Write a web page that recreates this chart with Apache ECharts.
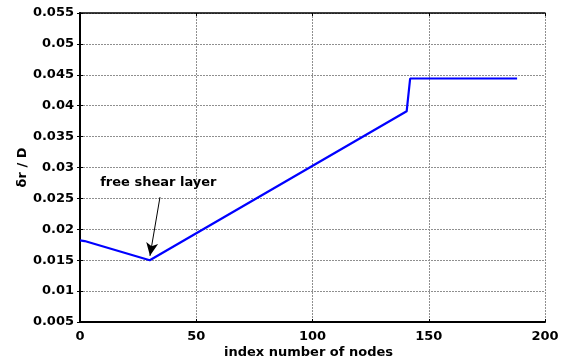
<!DOCTYPE html>
<html>
<head>
<meta charset="utf-8">
<script src="https://cdn.jsdelivr.net/npm/echarts@6/dist/echarts.min.js"></script>
<style>
  html, body { margin: 0; padding: 0; background: #fff; }
  #chart { width: 564px; height: 364px; }
</style>
</head>
<body>
<div id="chart"></div>
<script>
// Grid spacing along the index (node) direction: node index -> delta r / D
const nodeIndex = [0, 2, 30, 140.5, 142, 188];
const spacing   = [0.0182, 0.0181, 0.0150, 0.0391, 0.0444, 0.0444];

// Axis extents and tick steps
const xRange = [0, 200];
const xStep = 50;
const yRange = [0.005, 0.055];
const yStep = 0.005;

// Annotation: label anchor and arrow from tail to tip
const noteText = 'free shear layer';
const noteAt = [33.7, 0.0275];
const arrowFrom = [34.4, 0.0252];
const arrowTo = [30.1, 0.0157];

const FONT = 'DejaVu Sans';
const fmtY = v => String(parseFloat(v.toFixed(3)));

const chart = echarts.init(document.getElementById('chart'), null, { renderer: 'canvas' });

const baseAxisLine = { show: true, lineStyle: { color: '#000', width: 1.5 } };
const innerTick = { show: true, inside: true, length: 3, lineStyle: { color: '#000', width: 1 } };
const gridLine = { show: true, lineStyle: { color: '#8f8f8f', type: [2, 1], width: 1 } };

chart.setOption({
  animation: false,
  backgroundColor: '#fff',
  grid: { left: 80, right: 19, top: 13, bottom: 42, containLabel: false },
  xAxis: [
    {
      type: 'value', min: xRange[0], max: xRange[1], interval: xStep,
      position: 'bottom',
      name: 'index number of nodes', nameLocation: 'middle', nameGap: 24,
      nameMoveOverlap: false,
      nameTextStyle: { fontFamily: FONT, fontWeight: 'bold', fontSize: 13, color: '#000', padding: [0, 8, 0, 0] },
      axisLine: { show: true, onZero: false, lineStyle: { color: '#000', width: 2 } },
      axisTick: innerTick,
      axisLabel: { fontFamily: FONT, fontWeight: 'bold', fontSize: 13, color: '#000', margin: 8 },
      splitLine: gridLine
    },
    {
      type: 'value', min: xRange[0], max: xRange[1], interval: xStep,
      position: 'top',
      axisLine: baseAxisLine, axisTick: innerTick,
      axisLabel: { show: false }, splitLine: { show: false }
    }
  ],
  yAxis: [
    {
      type: 'value', min: yRange[0], max: yRange[1], interval: yStep,
      position: 'left',
      name: 'δr / D', nameLocation: 'middle', nameGap: 51, nameRotate: 90,
      nameMoveOverlap: false,
      nameTextStyle: { fontFamily: FONT, fontWeight: 'bold', fontSize: 13, color: '#000' },
      axisLine: { show: true, onZero: false, lineStyle: { color: '#000', width: 2 } },
      axisTick: innerTick,
      axisLabel: { fontFamily: FONT, fontWeight: 'bold', fontSize: 13, color: '#000', margin: 6, formatter: fmtY },
      splitLine: gridLine
    },
    {
      type: 'value', min: yRange[0], max: yRange[1], interval: yStep,
      position: 'right',
      axisLine: baseAxisLine, axisTick: innerTick,
      axisLabel: { show: false }, splitLine: { show: false }
    }
  ],
  series: [
    {
      type: 'line',
      data: nodeIndex.map((x, i) => [x, spacing[i]]),
      showSymbol: false,
      lineStyle: { color: '#0000ff', width: 2.2 },
      itemStyle: { color: '#0000ff' },
      markLine: {
        silent: true,
        symbol: ['none', 'arrow'],
        symbolSize: [9, 13],
        label: { show: false },
        lineStyle: { color: '#000', width: 1, type: 'solid' },
        data: [[{ coord: arrowFrom }, { coord: arrowTo }]]
      },
      markPoint: {
        silent: true,
        symbol: 'circle', symbolSize: 0,
        label: {
          show: true, position: 'inside', formatter: noteText,
          fontFamily: FONT, fontWeight: 'bold', fontSize: 13, color: '#000'
        },
        data: [{ coord: noteAt }]
      }
    }
  ]
});
</script>
</body>
</html>
